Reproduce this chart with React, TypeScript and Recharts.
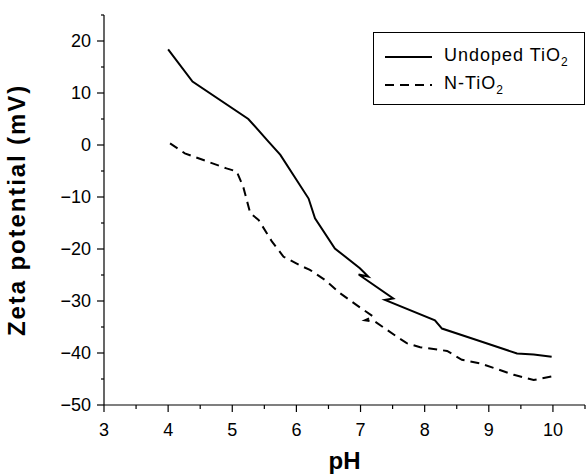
import { LineChart, Line, XAxis, YAxis, Legend, Label } from "recharts";

// Undoped TiO2 (solid), includes the small back-steps
const undopedPh = [4.0, 4.38, 5.25, 5.54, 5.75, 6.19, 6.29, 6.6, 6.99, 7.12, 6.97, 7.51, 7.38, 8.16, 8.27, 8.81, 9.44, 9.7, 9.98];
const undopedZeta = [18.4, 12.2, 5.0, 1.0, -1.9, -10.3, -14.1, -19.9, -23.7, -25.3, -24.9, -29.5, -29.8, -33.7, -35.3, -37.5, -40.1, -40.3, -40.7];

// N-TiO2 (dashed)
const nPh = [4.03, 4.26, 4.91, 5.07, 5.17, 5.28, 5.41, 5.62, 5.8, 6.08, 6.21, 6.45, 6.68, 6.94, 7.2, 7.07, 7.23, 7.57, 7.72, 7.93, 8.35, 8.58, 8.87, 9.39, 9.7, 9.98];
const nZeta = [0.3, -1.6, -4.5, -5.1, -8.0, -13.1, -14.4, -18.6, -21.5, -23.3, -24.0, -26.0, -28.5, -30.8, -33.0, -33.7, -34.0, -36.9, -38.1, -38.9, -39.6, -41.3, -42.0, -44.2, -45.2, -44.5];

const xTicks = [3, 3.5, 4, 4.5, 5, 5.5, 6, 6.5, 7, 7.5, 8, 8.5, 9, 9.5, 10, 10.5];
const yTicks = [-50, -45, -40, -35, -30, -25, -20, -15, -10, -5, 0, 5, 10, 15, 20, 25];

const undopedData = undopedPh.map((ph, i) => ({ ph, zeta: undopedZeta[i] }));
const nData = nPh.map((ph, i) => ({ ph, zeta: nZeta[i] }));

const FONT = '"Liberation Sans", Arial, sans-serif';

function fmt(v: number) {
  return v < 0 ? `\u2212${Math.abs(v)}` : `${v}`;
}

// eslint-disable-next-line @typescript-eslint/no-explicit-any
function YTick({ x, y, payload }: any) {
  const major = payload.value % 10 === 0 && payload.value !== 25;
  return (
    <g>
      <line x1={x} x2={x - (major ? 7 : 3)} y1={y} y2={y} stroke="#000" strokeWidth={1.2} />
      {major && (
        <text x={x - 13} y={y} dy={6} textAnchor="end" fontSize={18} fontFamily={FONT} fill="#000">
          {fmt(payload.value)}
        </text>
      )}
    </g>
  );
}

// eslint-disable-next-line @typescript-eslint/no-explicit-any
function XTick({ x, y, payload }: any) {
  const major = Number.isInteger(payload.value);
  return (
    <g>
      <line x1={x} x2={x} y1={y} y2={y + (major ? 7 : 4)} stroke="#000" strokeWidth={1.2} />
      {major && (
        <text x={x} y={y + 31} textAnchor="middle" fontSize={18} fontFamily={FONT} fill="#000">
          {payload.value}
        </text>
      )}
    </g>
  );
}

function LegendBox() {
  const rows = [
    { name: "Undoped TiO", dash: undefined },
    { name: "N-TiO", dash: "9 6" },
  ];
  return (
    <div
      style={{
        border: "1px solid #000",
        width: 212,
        height: 73,
        boxSizing: "border-box",
        fontFamily: FONT,
        fontSize: 18,
        letterSpacing: 1,
        paddingTop: 10,
      }}
    >
      {rows.map((r) => (
        <div key={r.name} style={{ display: "flex", alignItems: "center", height: 28 }}>
          <svg width={70} height={10}>
            <line x1={11} x2={58} y1={5} y2={5} stroke="#000" strokeWidth={2} strokeDasharray={r.dash} />
          </svg>
          <span>
            {r.name}
            <sub style={{ fontSize: 12 }}>2</sub>
          </span>
        </div>
      ))}
    </div>
  );
}

export default function App() {
  return (
    <div style={{ width: 588, height: 475, position: "relative", background: "#fff" }}>
      <style>{`body{margin:0}`}</style>
      <LineChart width={588} height={475} margin={{ top: 15, right: 3, bottom: 0, left: 0 }}>
        <XAxis
          type="number"
          dataKey="ph"
          domain={[3, 10.5]}
          ticks={xTicks}
          interval={0}
          tickSize={0}
          tickMargin={0}
          tickLine={false}
          tick={<XTick />}
          axisLine={{ stroke: "#000", strokeWidth: 1.2 }}
          height={70}
          allowDataOverflow
        >
          <Label
            content={({ viewBox }: any) => (
              <text
                x={viewBox.x + viewBox.width / 2}
                y={viewBox.y + 64}
                textAnchor="middle"
                fontSize={24}
                fontWeight="bold"
                fontFamily={FONT}
                fill="#000"
              >
                pH
              </text>
            )}
          />
        </XAxis>
        <YAxis
          type="number"
          dataKey="zeta"
          domain={[-50, 25]}
          ticks={yTicks}
          interval={0}
          tickSize={0}
          tickMargin={0}
          tickLine={false}
          tick={<YTick />}
          axisLine={{ stroke: "#000", strokeWidth: 1.2 }}
          width={104}
          allowDataOverflow
        >
          <Label
            content={({ viewBox }: any) => {
              const cx = 16;
              const cy = viewBox.y + viewBox.height / 2;
              return (
                <text
                  x={cx}
                  y={cy}
                  transform={`rotate(-90 ${cx} ${cy})`}
                  textAnchor="middle"
                  dominantBaseline="central"
                  fontSize={24}
                  fontWeight="bold"
                  fontFamily={FONT}
                  letterSpacing={1.9}
                  fill="#000"
                >
                  Zeta potential (mV)
                </text>
              );
            }}
          />
        </YAxis>
        <Legend
          layout="horizontal"
          verticalAlign="middle"
          align="center"
          content={() => <LegendBox />}
          wrapperStyle={{ position: "absolute", left: 373, top: 32, width: 212 }}
        />
        <Line
          data={undopedData}
          dataKey="zeta"
          name="Undoped TiO2"
          type="linear"
          stroke="#000"
          strokeWidth={2}
          dot={false}
          activeDot={false}
          isAnimationActive={false}
        />
        <Line
          data={nData}
          dataKey="zeta"
          name="N-TiO2"
          type="linear"
          stroke="#000"
          strokeWidth={2}
          strokeDasharray="9 6"
          dot={false}
          activeDot={false}
          isAnimationActive={false}
        />
      </LineChart>
    </div>
  );
}
